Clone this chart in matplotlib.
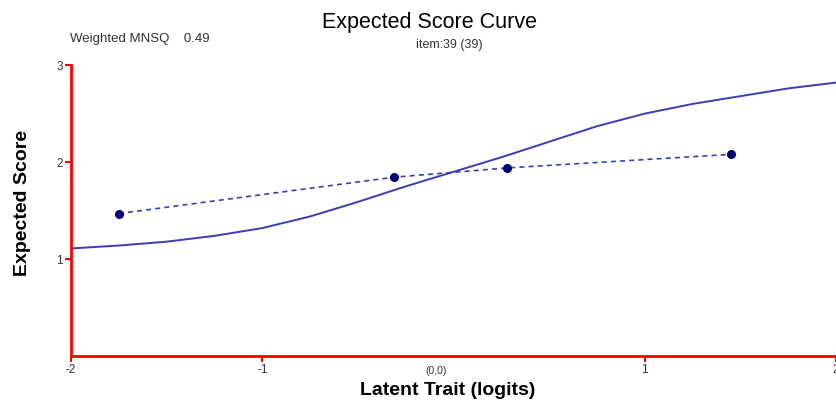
import matplotlib.pyplot as plt

# ---------- data ------------------------------------------------------------
curve_x = [-2.0, -1.75, -1.5, -1.25, -1.0, -0.75, -0.5, -0.25, 0.0,
           0.25, 0.5, 0.75, 1.0, 1.25, 1.5, 1.75, 2.0]
curve_y = [1.11, 1.14, 1.18, 1.24, 1.32, 1.44, 1.59, 1.75, 1.90,
           2.05, 2.21, 2.37, 2.50, 2.60, 2.68, 2.76, 2.82]

obs_x = [-1.75, -0.31, 0.28, 1.45]
obs_y = [1.47, 1.845, 1.94, 2.08]

x_ticks = [-2, -1, 1, 2]
y_ticks = [1, 2, 3]

# ---------- figure ------------------------------------------------------------
plt.rcParams['font.family'] = ['Liberation Sans', 'DejaVu Sans']
fig = plt.figure(figsize=(8.36, 4.07), dpi=100)
ax = fig.add_axes([0.085, 0.125, 0.915, 0.715])

ax.plot(curve_x, curve_y, color='#3c3cb8', lw=1.4)
ax.plot(obs_x, obs_y, color='#3c3cb8', lw=1.2, ls=(0, (3, 2.5)),
        marker='o', ms=5.5, mfc='#00006e', mec='#00006e')

ax.set_xlim(-2, 2)
ax.set_ylim(0, 3)
ax.set_xticks(x_ticks)
ax.set_xticklabels([str(t) for t in x_ticks])
ax.set_yticks(y_ticks)
ax.tick_params(colors='red', labelcolor='#333333', labelsize=8.5,
               length=4, width=1.5, pad=2)
for s in ['top', 'right']:
    ax.spines[s].set_visible(False)
for s in ['left', 'bottom']:
    ax.spines[s].set_color('red')
    ax.spines[s].set_linewidth(2)

ax.text(-0.09, -0.1, '(0,0)', ha='center', va='top', fontsize=7.5,
        color='#333333')

ax.set_xlabel('Latent Trait (logits)', fontsize=14, fontweight='bold')
ax.set_ylabel('Expected Score', fontsize=14, fontweight='bold')
ax.xaxis.set_label_coords(0.492, -0.088)
ax.yaxis.set_label_coords(-0.053, 0.525)

fig.text(0.514, 0.945, 'Expected Score Curve', ha='center', va='center', fontsize=15.5)
fig.text(0.537, 0.89, 'item:39 (39)', ha='center', va='center', fontsize=9,
         color='#333333')
fig.text(0.084, 0.905, 'Weighted MNSQ    0.49', ha='left', va='center',
         fontsize=9.5, color='#333333')

fig.savefig('out.png', dpi=100)
